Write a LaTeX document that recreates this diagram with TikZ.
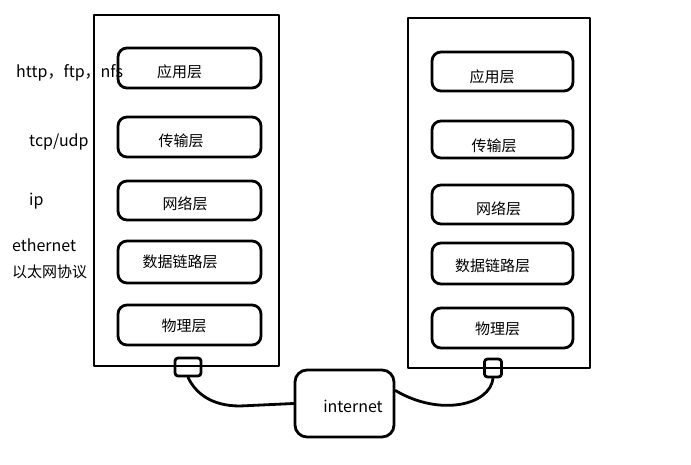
\documentclass[tikz,border=0pt]{standalone}
\usepackage{fontspec}
\setmainfont{Noto Sans CJK SC}
\newcommand{\lowtxt}[2]{\raisebox{-#1}[\height][\depth]{#2}}
\begin{document}
\begin{tikzpicture}[x=1pt,y=-1pt,
  ln/.style={line width=2.8pt,line cap=round,line join=round},
  host/.style={ln,draw,rectangle,inner sep=0pt},
  layer/.style={ln,draw,rectangle,rounded corners=9pt,inner sep=0pt,font=\fontsize{15}{17}\selectfont},
  lbl/.style={anchor=west,inner sep=0pt},
  lat/.style={font=\fontsize{16}{18}\selectfont},
  cjk/.style={font=\fontsize{15}{17}\selectfont},
  plug/.style={ln,draw,rectangle,rounded corners=3pt,inner sep=0pt}]
\useasboundingbox (0,0) rectangle (691,465);
\fill[white] (0,0) rectangle (691,465);
% host boxes
\node[host,minimum width=185pt,minimum height=351pt] (hl) at (186.5,190.5) {};
\node[host,minimum width=182pt,minimum height=350pt] (hr) at (499,193) {};
% left layers
\node[layer,minimum width=143pt,minimum height=40pt] (l1) at (189.5,68) {\lowtxt{4pt}{应用层}\kern20pt};
\node[layer,minimum width=143pt,minimum height=40pt] (l2) at (189.5,137) {\lowtxt{4pt}{传输层}\kern17pt};
\node[layer,minimum width=143pt,minimum height=39pt] (l3) at (189.5,200.5) {\lowtxt{3pt}{网络层}\kern9pt};
\node[layer,minimum width=143pt,minimum height=42pt] (l4) at (189.5,262) {\lowtxt{0pt}{数据链路层}\kern19pt};
\node[layer,minimum width=143pt,minimum height=40pt] (l5) at (189.5,325) {\lowtxt{1pt}{物理层}\kern11pt};
% right layers
\node[layer,minimum width=141pt,minimum height=39pt] (r1) at (502.5,71.5) {\lowtxt{5pt}{应用层}\kern21pt};
\node[layer,minimum width=141pt,minimum height=37pt] (r2) at (502.5,139.5) {\lowtxt{6pt}{传输层}\kern17pt};
\node[layer,minimum width=141pt,minimum height=39pt] (r3) at (502.5,204.5) {\lowtxt{4pt}{网络层}\kern8pt};
\node[layer,minimum width=141pt,minimum height=41pt] (r4) at (502.5,263.5) {\lowtxt{2pt}{数据链路层}\kern20pt};
\node[layer,minimum width=141pt,minimum height=40pt] (r5) at (502.5,328) {\lowtxt{1pt}{物理层}\kern10pt};
% left labels
\node[lbl,lat] (t1) at (16,73) {http，ftp，nfs};
\node[lbl,lat] (t2) at (29,142) {tcp/udp};
\node[lbl,lat] (t3) at (29,201) {ip};
\node[lbl,lat] (t4) at (12,245) {ethernet};
\node[lbl,cjk] (t5) at (12,272) {以太网协议};
% internet
\node[ln,draw,rectangle,rounded corners=12pt,inner sep=0pt,lat,minimum width=99pt,minimum height=67pt] (net) at (344.5,403.5) {\hspace{17pt}\lowtxt{3pt}{internet}};
% plugs
\node[plug,minimum width=26pt,minimum height=18pt] (pl) at (188,367) {};
\node[plug,minimum width=17pt,minimum height=18pt] (pr) at (493,368) {};
% cables
\draw[ln] (pl.south) .. controls (195,392) and (210,406) .. (240,406) -- (net.west);
\draw[ln] ([yshift=13pt]net.east) .. controls (440,417) and (490,405) .. (pr.south);
\end{tikzpicture}
\end{document}
